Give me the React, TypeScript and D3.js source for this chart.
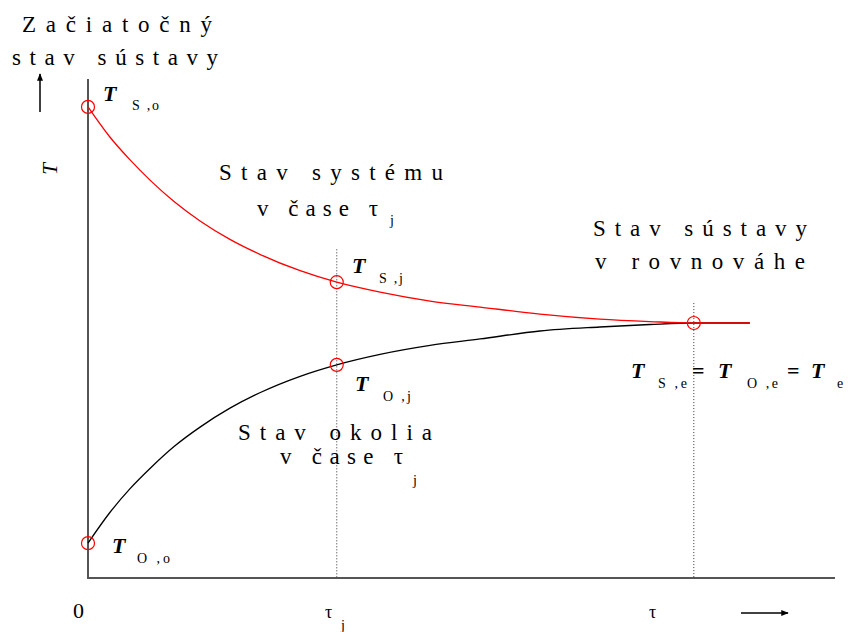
import React from "react";
import * as d3 from "d3";

// time positions (relative units 0..100) and temperatures (relative 0..100)
const TAU_J = 33.3;
const TAU_E = 81.1;
const timePoints = [0, 2.9, 5.6, 8.3, 11.6, 15.0, 19.0, 23.0, 28.4, 33.3, 39.1, 45.8, 52.5, 60.5, 68.5, 75.2, 81.1, 88.6];
const systemT = [94.6, 88.6, 84.0, 79.9, 75.5, 71.7, 68.0, 65.0, 61.7, 59.4, 57.4, 55.6, 54.4, 53.0, 52.0, 51.5, 51.2, 51.2];
const surroundT = [7.0, 13.1, 17.9, 22.0, 26.5, 30.3, 34.1, 37.2, 40.5, 42.8, 44.9, 46.7, 48.0, 49.6, 50.4, 50.9, 51.2, 51.2];
const markerPoints: [number, number][] = [
  [0, 94.6],
  [TAU_J, 59.4],
  [TAU_J, 42.8],
  [TAU_E, 51.2],
  [0, 7.0],
];
const dottedTops: [number, number][] = [
  [TAU_J, 66],
  [TAU_E, 55.2],
];

const W = 848;
const H = 632;
const FONT = "Liberation Serif";

export default function App() {
  const x = d3.scaleLinear().domain([0, 100]).range([88, 835]);
  const y = d3.scaleLinear().domain([0, 100]).range([578, 80]);

  const line = d3
    .line<[number, number]>()
    .x((d) => x(d[0]))
    .y((d) => y(d[1]))
    .curve(d3.curveMonotoneX);

  const sysPath = line(timePoints.map((t, i) => [t, systemT[i]]) as [number, number][]) || "";
  const surPath = line(timePoints.map((t, i) => [t, surroundT[i]]) as [number, number][]) || "";

  const big = { fontFamily: FONT, fontSize: 23, fill: "#000" };
  const Tst = { fontFamily: FONT, fontSize: 22, fontWeight: "bold", fontStyle: "italic", fill: "#000" };
  const eq = { fontFamily: FONT, fontSize: 22, fontWeight: "bold", fill: "#000" };
  const sub = { fontFamily: FONT, fontSize: 14, fill: "#000" };

  return (
    <svg
      width={W}
      height={H}
      style={{ position: "absolute", left: 0, top: 0, background: "#fff" }}
    >
      <defs>
        <marker id="ah" viewBox="0 0 10 10" refX="9" refY="5" markerWidth="5" markerHeight="5" orient="auto">
          <path d="M0,1 L10,5 L0,9 z" fill="#000" />
        </marker>
      </defs>
      <rect x={0} y={0} width={W} height={H} fill="#fff" />

      {/* dotted guides */}
      {dottedTops.map(([t, v], i) => (
        <line
          key={i}
          x1={x(t)}
          x2={x(t)}
          y1={y(v)}
          y2={y(0)}
          stroke="#333"
          strokeWidth={1}
          strokeDasharray="1,2"
        />
      ))}

      {/* axes */}
      <line x1={x(0)} x2={x(100)} y1={y(0)} y2={y(0)} stroke="#555" strokeWidth={2} />
      <line x1={x(0)} x2={x(0)} y1={y(0) + 1} y2={y(100) - 1} stroke="#555" strokeWidth={2} />

      {/* curves */}
      <path d={surPath} fill="none" stroke="#000" strokeWidth={1.3} />
      <path d={sysPath} fill="none" stroke="#ff0000" strokeWidth={1.3} />

      {/* markers */}
      {markerPoints.map(([t, v], i) => (
        <circle key={i} cx={x(t)} cy={y(v)} r={6.5} fill="none" stroke="#ff0000" strokeWidth={1.2} />
      ))}

      {/* top-left labels */}
      <text x={22} y={32} textLength={190} lengthAdjust="spacing" style={big}>Začiatočný</text>
      <text x={12} y={65} textLength={206} lengthAdjust="spacing" style={big}>stav sústavy</text>
      <line x1={40} x2={40} y1={112} y2={74} stroke="#000" strokeWidth={1.5} markerEnd="url(#ah)" />

      {/* y label rotated */}
      <text
        x={0}
        y={0}
        transform="translate(57,169) rotate(-90)"
        textAnchor="middle"
        style={{ fontFamily: FONT, fontSize: 21, fontStyle: "italic", fill: "#000" }}
      >
        T
      </text>

      {/* T S,o */}
      <text x={103} y={101} style={Tst}>T</text>
      <text x={132} y={110} textLength={27} lengthAdjust="spacing" style={sub}>S ,o</text>

      {/* Stav systému v čase τj */}
      <text x={219} y={180} textLength={224} lengthAdjust="spacing" style={big}>Stav systému</text>
      <text x={257} y={216} textLength={121} lengthAdjust="spacing" style={big}>v čase τ</text>
      <text x={390} y={225} style={sub}>j</text>

      {/* T S,j */}
      <text x={352} y={273} style={Tst}>T</text>
      <text x={379} y={283} textLength={24} lengthAdjust="spacing" style={sub}>S ,j</text>

      {/* T O,j */}
      <text x={355} y={391} style={Tst}>T</text>
      <text x={383} y={401} textLength={28} lengthAdjust="spacing" style={sub}>O ,j</text>

      {/* Stav sústavy v rovnováhe */}
      <text x={593} y={236} textLength={214} lengthAdjust="spacing" style={big}>Stav sústavy</text>
      <text x={595} y={269} textLength={210} lengthAdjust="spacing" style={big}>v rovnováhe</text>

      {/* T S,e = T O,e = T e */}
      <text x={631} y={378} style={Tst}>T</text>
      <text x={658} y={388} textLength={29} lengthAdjust="spacing" style={sub}>S ,e</text>
      <text x={692} y={378} style={eq}>=</text>
      <text x={718} y={378} style={Tst}>T</text>
      <text x={747} y={388} textLength={31} lengthAdjust="spacing" style={sub}>O ,e</text>
      <text x={787} y={378} style={eq}>=</text>
      <text x={811} y={378} style={Tst}>T</text>
      <text x={837} y={388} style={sub}>e</text>

      {/* Stav okolia v čase τj */}
      <text x={238} y={440} textLength={194} lengthAdjust="spacing" style={big}>Stav okolia</text>
      <text x={280} y={464} textLength={123} lengthAdjust="spacing" style={big}>v čase τ</text>
      <text x={413} y={485} style={sub}>j</text>

      {/* T O,o */}
      <text x={112} y={553} style={Tst}>T</text>
      <text x={137} y={563} textLength={33} lengthAdjust="spacing" style={sub}>O ,o</text>

      {/* x axis labels */}
      <text x={73} y={618} style={{ fontFamily: FONT, fontSize: 22, fill: "#000" }}>0</text>
      <text x={325} y={618} style={{ fontFamily: FONT, fontSize: 18, fill: "#000" }}>τ</text>
      <text x={341} y={630} style={sub}>j</text>
      <text x={649} y={618} style={{ fontFamily: FONT, fontSize: 18, fill: "#000" }}>τ</text>
      <line x1={741} x2={788} y1={613} y2={613} stroke="#000" strokeWidth={1.5} markerEnd="url(#ah)" />
    </svg>
  );
}
